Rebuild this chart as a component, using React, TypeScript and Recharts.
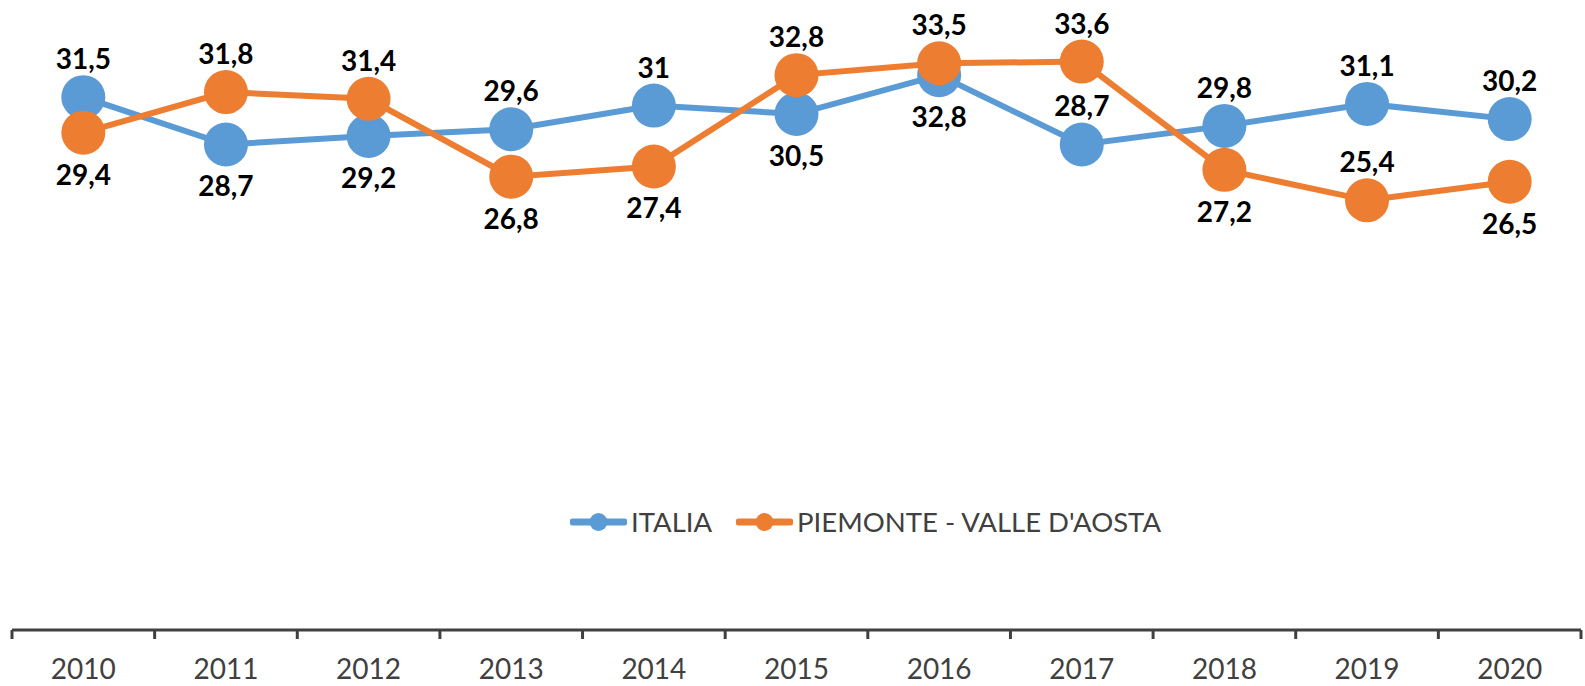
import { LineChart, Line, XAxis, YAxis, Legend, LabelList } from "recharts";

// values (Excel-style chart, comma decimals)
const years = ["2010", "2011", "2012", "2013", "2014", "2015", "2016", "2017", "2018", "2019", "2020"];
const italia = [31.5, 28.7, 29.2, 29.6, 31, 30.5, 32.8, 28.7, 29.8, 31.1, 30.2];
const piemonte = [29.4, 31.8, 31.4, 26.8, 27.4, 32.8, 33.5, 33.6, 27.2, 25.4, 26.5];
const italiaLabelPos = ["up", "down", "down", "up", "up", "down", "down", "up", "up", "up", "up"];
const piemonteLabelPos = ["down", "up", "up", "down", "down", "up", "up", "up", "down", "up", "down"];

const series = [
  { key: "italia", name: "ITALIA", color: "#5B9BD5", pos: italiaLabelPos },
  { key: "piemonte", name: "PIEMONTE - VALLE D'AOSTA", color: "#ED7D31", pos: piemonteLabelPos },
];

const data = years.map((year, i) => ({ i, year, italia: italia[i], piemonte: piemonte[i] }));

// ticks at category centres (labels) and at band edges (tick marks)
const ticks: number[] = [];
for (let i = 0; i <= years.length; i++) {
  ticks.push(i - 0.5);
  if (i < years.length) ticks.push(i);
}

const FONT = "Lato, 'Open Sans', sans-serif";
const AXIS_COLOR = "#404040";

function YearTick(props: any) {
  const { x, y, payload } = props;
  const v = payload.value;
  if (!Number.isInteger(v)) {
    return <line x1={x} x2={x} y1={y} y2={y + 9} stroke={AXIS_COLOR} strokeWidth={3} />;
  }
  return (
    <text x={x} y={y} dy={49} textAnchor="middle" fill={AXIS_COLOR} fontSize={28} fontFamily={FONT}>
      {years[v]}
    </text>
  );
}

const makeLabel = (pos: string[]) => (props: any) => {
  const { x, y, value, index } = props;
  const up = pos[index] === "up";
  return (
    <text
      x={x}
      y={y + (up ? -28 : 52)}
      textAnchor="middle"
      fill="#000"
      fontSize={28}
      fontWeight="bold"
      fontFamily={FONT}
    >
      {String(value).replace(".", ",")}
    </text>
  );
};

function LegendContent() {
  return (
    <div style={{ display: "flex", alignItems: "center", fontFamily: FONT, fontSize: 27.5, color: AXIS_COLOR, lineHeight: "34px", whiteSpace: "nowrap" }}>
      {series.map((s, k) => (
        <div key={s.key} style={{ display: "flex", alignItems: "center", marginLeft: k ? 24 : 0 }}>
          <svg width={57} height={22} style={{ marginRight: 4 }}>
            <line x1={3} x2={54} y1={11} y2={11} stroke={s.color} strokeWidth={7} strokeLinecap="round" />
            <circle cx={28.5} cy={11} r={9} fill={s.color} />
          </svg>
          <span>{s.name}</span>
        </div>
      ))}
    </div>
  );
}

export default function App() {
  return (
    <div style={{ position: "absolute", left: 0, top: 0, background: "#fff" }}>
      <LineChart width={1585} height={686} data={data} margin={{ top: 21, right: 4, bottom: 0, left: 12 }}>
        <XAxis
          dataKey="i"
          type="number"
          domain={[-0.5, years.length - 0.5]}
          ticks={ticks}
          interval={0}
          tick={<YearTick />}
          tickLine={false}
          tickSize={0}
          tickMargin={0}
          height={56}
          axisLine={{ stroke: AXIS_COLOR, strokeWidth: 3 }}
        />
        <YAxis hide width={0} domain={[0, 36]} />
        <Legend
          layout="horizontal"
          verticalAlign="middle"
          align="center"
          content={<LegendContent />}
          wrapperStyle={{ left: 570, top: 505, width: "auto" }}
        />
        {series.map((s) => (
          <Line
            key={s.key}
            dataKey={s.key}
            name={s.name}
            type="linear"
            stroke={s.color}
            strokeWidth={6}
            dot={{ r: 22, fill: s.color, stroke: "none" }}
            activeDot={false}
            isAnimationActive={false}
          >
            <LabelList dataKey={s.key} content={makeLabel(s.pos)} />
          </Line>
        ))}
      </LineChart>
    </div>
  );
}
